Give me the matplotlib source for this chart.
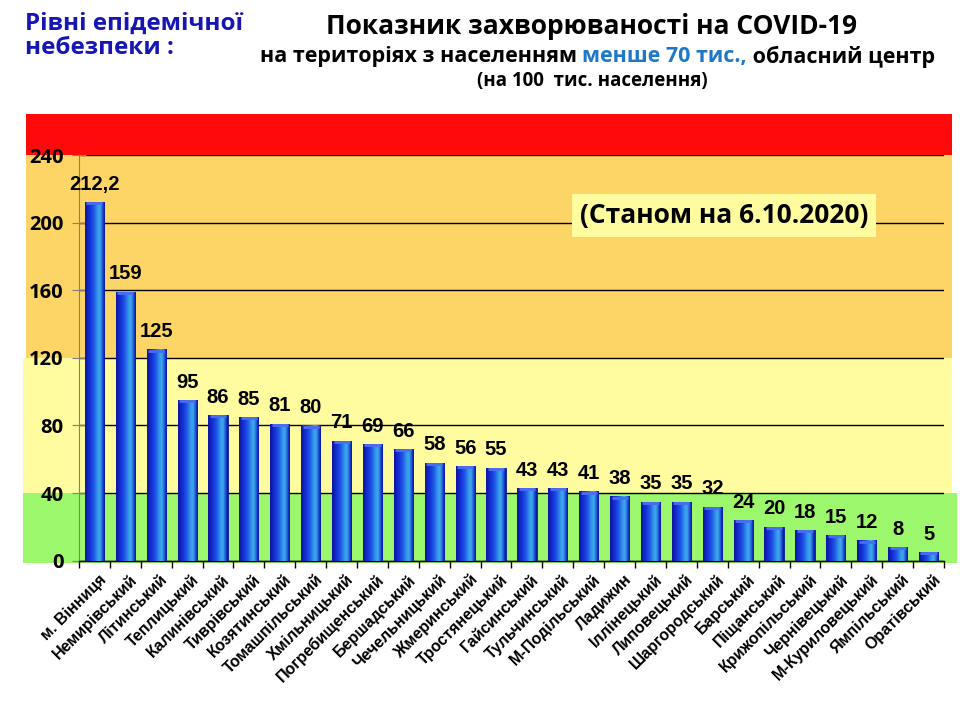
import numpy as np
import matplotlib
matplotlib.use('Agg')
import matplotlib.pyplot as plt
from matplotlib.patches import Rectangle
from matplotlib.transforms import blended_transform_factory

# райони та показники на 100 тис. населення
districts = ['м. Вінниця', 'Немирівський', 'Літинський', 'Теплицький', 'Калинівський',
             'Тиврівський', 'Козятинський', 'Томашпільський', 'Хмільницький',
             'Погребищенський', 'Бершадський', 'Чечельницький', 'Жмеринський',
             'Тростянецький', 'Гайсинський', 'Тульчинський', 'М-Подільський', 'Ладижин',
             'Іллінецький', 'Липовецький', 'Шаргородський', 'Барський', 'Піщанський',
             'Крижопільський', 'Чернівецький', 'М-Куриловецький', 'Ямпільський',
             'Оратівський']
values = [212.2, 159, 125, 95, 86, 85, 81, 80, 71, 69, 66, 58, 56, 55, 43, 43, 41, 38,
          35, 35, 32, 24, 20, 18, 15, 12, 8, 5]
value_labels = ['212,2', '159', '125', '95', '86', '85', '81', '80', '71', '69', '66', '58',
                '56', '55', '43', '43', '41', '38', '35', '35', '32', '24', '20', '18', '15',
                '12', '8', '5']

# рівні епідемічної небезпеки: межі та кольори (зелений, жовтий, помаранчевий, червоний)
level_bounds = [0, 40, 120, 240, 264]
level_colors = ['#9CF76C', '#FFFB9F', '#FDD566', '#FF0A0A']
y_ticks = [0, 40, 80, 120, 160, 200, 240]

title_font = ['Open Sans', 'DejaVu Sans']
bar_font = ['Liberation Sans Narrow', 'Liberation Sans', 'DejaVu Sans']

fig = plt.figure(figsize=(9.6, 7.2), dpi=100)
ax = fig.add_axes([0.0823, 0.2213, 0.9010, 0.5634])
ax.set_facecolor('none')

# кольорові смуги фону (x - у координатах фігури, y - у даних)
band_tr = blended_transform_factory(fig.transFigure, ax.transData)
band_x = [(0.024, 0.997), (0.024, 0.992), (0.027, 0.992), (0.027, 0.992)]
for i, col in enumerate(level_colors):
    lo, hi = level_bounds[i], level_bounds[i + 1]
    if i == 0:
        lo = -1.5
    x0, x1 = band_x[i]
    ax.add_patch(Rectangle((x0, lo), x1 - x0, hi - lo, transform=band_tr,
                           facecolor=col, edgecolor='none', zorder=-10, clip_on=False))

x = np.arange(len(districts))
bars = ax.bar(x, values, width=0.62, color='#1530C8', edgecolor='#0A1890',
              linewidth=0.6, zorder=3)

# градієнт "циліндра" для стовпчиків
grad = np.array([0.0, 0.25, 0.45, 0.62, 0.75, 0.85, 0.95, 1.0])
grad_cols = np.array([[0.05, 0.08, 0.62], [0.08, 0.20, 0.85], [0.12, 0.35, 0.90],
                      [0.20, 0.58, 0.92], [0.24, 0.68, 0.92], [0.16, 0.42, 0.88],
                      [0.07, 0.16, 0.74], [0.04, 0.07, 0.58]])
xs = np.linspace(0, 1, 64)
img = np.stack([np.interp(xs, grad, grad_cols[:, c]) for c in range(3)], axis=-1)[None, :, :]
for b in bars:
    bx, by = b.get_x(), b.get_y()
    bw, bh = b.get_width(), b.get_height()
    im = ax.imshow(img, extent=(bx, bx + bw, by, by + bh), aspect='auto', zorder=3.5,
                   interpolation='bicubic')
    im.set_clip_path(b)
    # світла "кришка" зверху
    ax.plot([bx + 0.05, bx + bw - 0.05], [by + bh - 0.7, by + bh - 0.7],
            color='#4C6CF0', lw=2, zorder=3.7, solid_capstyle='butt')

for b, lab in zip(bars, value_labels):
    ax.text(b.get_x() + b.get_width() / 2, b.get_height() + 5, lab, ha='center',
            va='bottom', fontsize=14.5, fontweight='bold', family=bar_font, zorder=5)

ax.set_xlim(-0.5, len(districts) - 0.5)
ax.set_ylim(0, 240)
ax.set_yticks(y_ticks)
ax.set_yticklabels([str(t) for t in y_ticks], fontsize=14.5, fontweight='bold',
                   family=title_font)
ax.yaxis.grid(True, color='black', lw=1)
for gl in ax.get_ygridlines():
    gl.set_zorder(2)
ax.tick_params(axis='y', direction='inout', length=10, width=0.8, color='#808080', pad=6)

ax.set_xticks(np.arange(len(districts) + 1) - 0.5)
ax.set_xticklabels([])
ax.tick_params(axis='x', direction='out', length=5, width=1, color='black')
for i, name in enumerate(districts):
    ax.annotate(name, xy=(x[i], 0), xycoords='data', xytext=(3, -8),
                textcoords='offset points', rotation=45, rotation_mode='anchor',
                ha='right', va='top', fontsize=11.5, fontweight='bold',
                family=['Liberation Sans', 'DejaVu Sans'], annotation_clip=False)

for side in ['top', 'right']:
    ax.spines[side].set_visible(False)
ax.spines['left'].set_color('#808080')
ax.spines['left'].set_linewidth(0.8)
ax.spines['bottom'].set_color('black')
ax.spines['bottom'].set_linewidth(1)

# дата
ax.text(0.7457, 0.85, '(Станом на 6.10.2020)', transform=ax.transAxes, ha='center',
        va='center', fontsize=19, fontweight='bold', family=title_font, zorder=6,
        bbox=dict(boxstyle='square,pad=0.3', facecolor='#FFFB9F', edgecolor='none'))

# заголовки
fig.text(0.026, 0.95, 'Рівні епідемічної\nнебезпеки :', ha='left', va='center',
         fontsize=17.5, fontweight='bold', color='#1616B4', family=title_font,
         linespacing=1.0)
fig.text(0.616, 0.963, 'Показник захворюваності на COVID-19', ha='center', va='center',
         fontsize=19, fontweight='bold', family=title_font)
fig.text(0.617, 0.888, '(на 100  тис. населення)', ha='center', va='center',
         fontsize=13.5, fontweight='bold', family=title_font)

# другий рядок заголовка з виділенням кольором
parts = [('на територіях з населенням ', 'black'), ('менше 70 тис.,', '#1E78C8'),
         (' обласний центр', 'black')]
renderer = fig.canvas.get_renderer()
texts = []
widths = []
for s, c in parts:
    t = fig.text(0, 0.921, s, ha='left', va='center', fontsize=15.5, fontweight='bold',
                 color=c, family=title_font)
    texts.append(t)
    widths.append(t.get_window_extent(renderer).width / fig.bbox.width)
x_start = 0.974 - sum(widths)
for t, w in zip(texts, widths):
    t.set_x(x_start)
    x_start += w

fig.savefig('out.png', dpi=100)
